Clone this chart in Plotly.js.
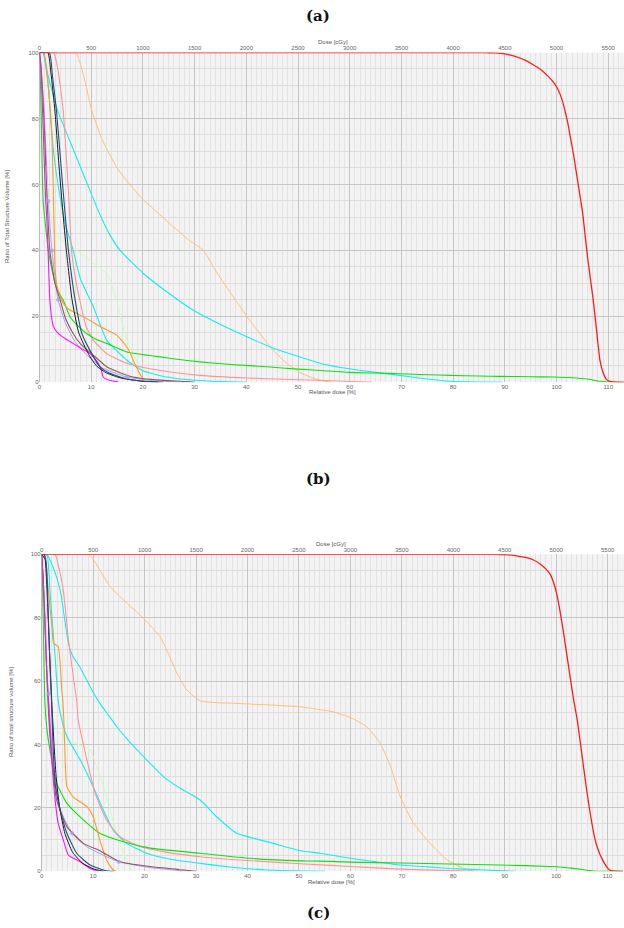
<!DOCTYPE html>
<html>
<head>
<meta charset="utf-8">
<script src="https://cdn.plot.ly/plotly-3.0.1.min.js"></script>
<style>html,body{margin:0;padding:0;background:#fff;}#chart{width:624px;height:928px;}</style>
</head>
<body>
<div id="chart"></div>
<script>
// ---------- Panel (a) data (x = relative dose %, y = volume %) ----------
var a_red_x = [0, 80, 86, 88, 90, 92, 94, 95.5, 97, 98.5, 99.5, 100.3, 101, 101.6, 102.2, 102.6, 103.3, 103.9, 104.5, 105.1, 106, 107.1, 107.8, 108.4, 109, 109.7, 110.5, 111.5, 113];
var a_red_y = [100, 100, 100, 99.9, 99.6, 98.8, 97.6, 96.3, 94.8, 92.6, 90.8, 88.8, 86, 82.6, 78.5, 75, 69, 63, 57, 50.8, 38, 25, 15, 6.7, 3, 0.8, 0.2, 0.05, 0];
var a_lorange_x = [0, 7, 8, 9, 10, 12, 15, 18, 20.1, 23.3, 26, 29, 31.7, 34, 37, 40.1, 43, 45.2, 48, 51, 54.3, 56.5];
var a_lorange_y = [100, 100, 96, 90, 83, 74, 65, 59, 55.3, 50.8, 47, 43, 40, 34, 27, 20, 14, 9.7, 5.5, 2.5, 0.6, 0];
var a_cyanW_x = [0, 0.7, 1.5, 2.5, 3.6, 5.6, 7.6, 9.6, 11.7, 13.5, 15.6, 20.1, 25, 29.7, 35, 40.1, 45, 50.4, 55, 60, 65, 69.7, 75, 79.4, 85, 89.6];
var a_cyanW_y = [100, 100, 94, 88, 82, 74.2, 66.5, 58.8, 50.8, 45, 40, 33, 27, 21.9, 17.5, 13.8, 10.5, 7.7, 5.5, 4.1, 3, 2.1, 1, 0.3, 0.1, 0];
var a_cyanN_x = [0, 0.7, 1.2, 1.8, 2.4, 3.2, 4.6, 5.2, 6.5, 8, 10.4, 13, 16.9, 20, 24.6, 30, 35, 40];
var a_cyanN_y = [100, 100, 96, 88, 75, 64, 51, 47, 40, 31, 23, 12.8, 6.7, 3.5, 1.6, 0.6, 0.2, 0];
var a_salmon_x = [0, 2.7, 3.3, 4, 4.6, 5.2, 5.7, 6.2, 7, 7.8, 9, 10.4, 13, 16, 19.4, 25, 31, 40, 54, 64.3];
var a_salmon_y = [100, 100, 97, 90, 82, 68, 55, 40, 31, 24.9, 17, 12.8, 8.7, 6.3, 4.7, 3.2, 2.1, 1.3, 0.6, 0];
var a_navy_x = [0, 1.9, 2.5, 3.3, 4.2, 4.9, 5.6, 6.9, 8.2, 10.1, 11.7, 13.5, 15.6, 18, 21.4, 24];
var a_navy_y = [100, 100, 93, 82, 65, 52, 40, 24.9, 14.8, 8.7, 4.7, 2.8, 1.6, 0.7, 0.2, 0];
var a_black_x = [0, 1.6, 2.2, 3, 3.8, 4.5, 5.2, 6.3, 7.6, 9.5, 11, 13, 16, 20, 23];
var a_black_y = [100, 100, 94, 82, 65, 52, 40, 25, 15, 8.5, 5, 2.8, 1.2, 0.3, 0];
var a_brown_x = [0, 0.3, 0.6, 1, 1.4, 2, 3, 4, 5, 6.5, 8, 10.1, 13, 15.5, 18.1, 22, 28.5, 30];
var a_brown_y = [100, 96, 88, 75, 58, 40, 30, 24.9, 19.5, 14.8, 11.5, 8.7, 4.7, 3, 1.6, 0.8, 0.2, 0];
var a_lav_x = [0, 0.8, 1.7, 2.4, 3.6, 5, 7, 9, 12, 16.9, 22, 28];
var a_lav_y = [100, 85, 55, 40, 25, 18, 12, 8.5, 4.5, 1.6, 0.5, 0];
var a_lavm_x = [1.7, 2.4, 3.6, 16.9];
var a_lavm_y = [55, 40, 25, 1.6];
var a_magenta_x = [0, 0.3, 0.6, 0.9, 1.2, 1.4, 1.7, 2, 2.4, 2.7, 3.6, 5, 6.5, 8, 9.8, 11.4, 12, 12.3, 13.5, 14.9, 15.3];
var a_magenta_y = [100, 94, 82, 68, 55, 50, 38, 25, 19, 16.9, 14.8, 13.2, 11.8, 10.3, 8.7, 5.7, 3.5, 1.6, 0.6, 0.2, 0];
var a_green_x = [0, 0.2, 0.4, 0.7, 1.2, 1.7, 2.3, 3, 3.8, 4.6, 5.9, 7.5, 9.1, 11, 13, 16.9, 20, 23.3, 27, 31, 37, 43.9, 50, 54.3, 60, 65, 69.7, 75, 79.4, 85, 89.2, 95, 99.5, 103, 106, 108.4, 110, 112, 113];
var a_green_y = [100, 90, 75, 55, 47, 40, 35, 30, 27, 24.9, 19.9, 17, 14.8, 13, 11.8, 9.2, 8.4, 7.7, 6.9, 6.2, 5.4, 4.7, 4, 3.6, 3, 2.8, 2.6, 2.3, 2.1, 1.9, 1.8, 1.7, 1.6, 1.4, 1, 0.3, 0.1, 0, 0];
var a_dorange_x = [0, 0.8, 1.3, 1.8, 2.2, 2.4, 2.6, 2.75, 2.85, 3, 3.4, 4, 4.6, 5.8, 7.2, 9.5, 11.7, 13.5, 14.9, 16, 16.9, 17.6, 18.1, 18.8, 19.4, 20.4];
var a_dorange_y = [100, 100, 96, 88, 80, 75, 63, 52, 45.3, 35, 29, 26, 23.9, 22, 20.9, 19, 16.9, 15.5, 14.3, 12.5, 10.7, 8.7, 6.7, 4.5, 2.6, 0];
var a_pgreen_x = [0, 0.3, 0.7, 1.1, 1.6, 2.2, 2.8, 4, 5.5, 7.2, 8.5, 9.8, 11.5, 13, 14, 14.9, 15.7, 16.5, 17.6, 18.8, 20.4, 22, 23];
var a_pgreen_y = [100, 92, 80, 68, 58, 50, 45.3, 43.5, 41.8, 40, 38.5, 37, 35, 33, 29.5, 24.9, 19.8, 14.8, 10, 6.7, 3, 0.6, 0];

// ---------- Panel (b) data ----------
var b_red_x = [0, 85, 88, 90, 92, 94, 95.6, 97, 98.2, 98.9, 99.5, 100.1, 100.7, 101.5, 102.8, 103.4, 104.1, 104.7, 106, 107.3, 108, 109, 110, 110.6, 111.5, 113];
var b_red_y = [100, 100, 100, 99.9, 99.6, 99, 98.2, 96.8, 95, 93.5, 91, 87.5, 82.5, 74.5, 60.3, 54, 47.7, 40.5, 24.7, 12, 7.5, 3.6, 1, 0.2, 0.05, 0];
var b_lorange_x = [0, 9.1, 10.2, 11.3, 13.3, 15.9, 19.8, 23, 24.3, 26.3, 28.2, 30.8, 34, 37.3, 43.8, 50.3, 54.1, 56.7, 60, 63.2, 65.8, 67.8, 69.7, 72.3, 75.5, 78.8, 82, 84];
var b_lorange_y = [100, 100, 98, 95, 89.8, 85.6, 79.8, 74, 69.8, 62.5, 57.2, 53.8, 53.2, 53, 52.5, 51.9, 51, 50.3, 48.5, 45.6, 40.4, 33, 23.5, 15.1, 8.8, 3.6, 0.9, 0];
var b_cyanW_x = [0, 1, 2.2, 3.6, 4.6, 5.2, 6, 7.4, 8.7, 10, 11.5, 13, 14.6, 17, 19.8, 23.7, 26.9, 30.8, 34, 37.9, 41.2, 45, 50.3, 54.1, 60, 65, 69.7, 75, 79.4, 85, 89, 92];
var b_cyanW_y = [100, 100, 96, 88.7, 78, 72, 68, 64.5, 60.5, 56.5, 52.5, 49.2, 45.6, 41, 36.2, 29.8, 26.2, 22.5, 17.2, 12, 10.4, 8.8, 6.5, 5.7, 4.1, 3, 2, 1.4, 0.9, 0.5, 0.2, 0];
var b_cyanN_x = [0, 1, 1.6, 2.1, 2.6, 3.2, 3.6, 4.9, 7.5, 10, 12, 13.9, 16.5, 20.4, 25, 30.8, 37, 43.8, 55];
var b_cyanN_y = [100, 100, 88.7, 78, 67.7, 54, 50, 42.5, 35.1, 26.7, 19.3, 13, 8.8, 5.7, 3.8, 2.5, 1.3, 0.4, 0];
var b_salmon_x = [0, 2.6, 3.3, 4.2, 5.2, 6.5, 6.8, 7.1, 8.8, 10.4, 12.6, 15.2, 19.1, 25, 30.8, 40, 50.3, 60, 69.7, 79.4, 85];
var b_salmon_y = [100, 100, 96, 88.7, 73, 57.2, 54, 47.7, 35.1, 24.6, 16.2, 10.9, 7.8, 5.8, 4.6, 3.4, 2.4, 1.5, 0.7, 0.2, 0];
var b_dorange_x = [0, 0.6, 1.1, 1.6, 2, 2.3, 3.2, 3.9, 4.1, 4.3, 4.5, 4.9, 6.1, 8.8, 10, 11.3, 12.6, 13.9, 14.5];
var b_dorange_y = [100, 100, 92, 83.5, 77, 72, 70.9, 57.2, 54, 47.7, 38.3, 26.7, 23.5, 20.4, 17.2, 9.9, 3.6, 0.4, 0];
var b_green_x = [0, 0.2, 0.4, 0.6, 1, 1.6, 2.9, 4.9, 8.1, 11.3, 15.9, 21.1, 30.8, 40.5, 50.3, 54.1, 60, 70, 79.4, 89, 98.8, 103, 106.5, 108, 113];
var b_green_y = [100, 88, 70, 54, 45, 38.3, 27.8, 21.5, 16.2, 12, 9.3, 7.3, 5.7, 4.1, 3.3, 3.2, 2.9, 2.6, 2.3, 2, 1.5, 1, 0.2, 0, 0];
var b_pgreen_x = [0, 0.3, 0.7, 1.2, 1.8, 2.5, 4.9, 7.5, 9.4, 10.7, 12, 13.3, 14.6, 15.9, 17.5, 18];
var b_pgreen_y = [100, 90, 75, 62, 52, 45.6, 41.4, 39.8, 38.3, 33, 26.7, 19.3, 12, 5.7, 0.4, 0];
var b_navy_x = [0, 0.8, 1.2, 1.6, 1.9, 2.2, 2.6, 3.6, 4.9, 6.8, 9.4, 12.6, 14];
var b_navy_y = [100, 98, 85, 65, 54, 40, 27.8, 19.3, 12, 5.7, 2, 0.2, 0];
var b_black_x = [0, 0.5, 1, 1.5, 2, 2.4, 2.8, 3.5, 4.5, 6, 8, 10, 12];
var b_black_y = [100, 100, 90, 70, 52, 40, 30, 20, 12, 6, 2.5, 0.8, 0];
var b_brown_x = [0, 0.3, 0.7, 1.1, 1.5, 2, 2.9, 4.9, 8.1, 11.3, 15.2, 21.1, 27.6, 30];
var b_brown_y = [100, 92, 75, 58, 45, 35, 22.5, 14.1, 8.8, 6.5, 3, 1.5, 0.4, 0];
var b_lav_x = [0, 0.5, 1.3, 2.2, 3.5, 5.9, 9, 15, 21, 27, 29];
var b_lav_y = [100, 85, 56, 35, 20, 12, 7.5, 3, 1.2, 0.2, 0];
var b_lavm_x = [1.3, 5.9, 15, 27];
var b_lavm_y = [56, 12, 3, 0.2];
var b_magenta_x = [0, 0.3, 0.6, 0.9, 1.3, 1.8, 2.3, 3.2, 4.2, 5.2, 7.5, 9.4, 10.7, 11];
var b_magenta_y = [100, 92, 80, 66, 54, 40, 27.8, 15.2, 9.9, 5.1, 3, 0.9, 0.2, 0];

// tick labels
var relTicks = [0, 10, 20, 30, 40, 50, 60, 70, 80, 90, 100, 110];
var doseTicks = [0, 500, 1000, 1500, 2000, 2500, 3000, 3500, 4000, 4500, 5000, 5500];
var volTicks = [0, 20, 40, 60, 80, 100];

var COL = {
  red: '#ff1a1a', lorange: '#ffbf78', cyan: '#14ecf0', salmon: '#ff9494', navy: '#1f4f8f',
  black: '#1a1a1a', brown: '#8e5a5a', lav: '#a99cf0', magenta: '#ff10ff', green: '#10e010',
  dorange: '#ff9a2a', pgreen: '#c6ffb8'
};

function ln(x, y, c, w, xa, ya) {
  return {type: 'scatter', mode: 'lines', x: x, y: y, xaxis: xa, yaxis: ya,
    line: {color: c, width: w || 1.1, shape: 'spline', smoothing: 0.5}, hoverinfo: 'skip'};
}
function mk(x, y, c, xa, ya) {
  return {type: 'scatter', mode: 'markers', x: x, y: y, xaxis: xa, yaxis: ya,
    marker: {color: c, size: 4, opacity: 0.8}, hoverinfo: 'skip'};
}

var traces = [
  ln(a_lav_x, a_lav_y, COL.lav, 1, 'x', 'y'),
  ln(a_pgreen_x, a_pgreen_y, COL.pgreen, 1, 'x', 'y'),
  ln(a_lorange_x, a_lorange_y, COL.lorange, 1, 'x', 'y'),
  ln(a_cyanW_x, a_cyanW_y, COL.cyan, 1.1, 'x', 'y'),
  ln(a_cyanN_x, a_cyanN_y, COL.cyan, 1.1, 'x', 'y'),
  ln(a_salmon_x, a_salmon_y, COL.salmon, 1.1, 'x', 'y'),
  ln(a_green_x, a_green_y, COL.green, 1.1, 'x', 'y'),
  ln(a_dorange_x, a_dorange_y, COL.dorange, 1.1, 'x', 'y'),
  ln(a_brown_x, a_brown_y, COL.brown, 1.1, 'x', 'y'),
  ln(a_magenta_x, a_magenta_y, COL.magenta, 1.1, 'x', 'y'),
  ln(a_black_x, a_black_y, COL.black, 1, 'x', 'y'),
  ln(a_navy_x, a_navy_y, COL.navy, 1.1, 'x', 'y'),
  ln(a_red_x, a_red_y, COL.red, 1.3, 'x', 'y'),
  mk(a_lavm_x, a_lavm_y, COL.lav, 'x', 'y'),
  {type: 'scatter', mode: 'lines', x: [], y: [], xaxis: 'x2', yaxis: 'y', hoverinfo: 'skip'},

  ln(b_lav_x, b_lav_y, COL.lav, 1, 'x3', 'y2'),
  ln(b_pgreen_x, b_pgreen_y, COL.pgreen, 1, 'x3', 'y2'),
  ln(b_lorange_x, b_lorange_y, COL.lorange, 1, 'x3', 'y2'),
  ln(b_cyanW_x, b_cyanW_y, COL.cyan, 1.1, 'x3', 'y2'),
  ln(b_cyanN_x, b_cyanN_y, COL.cyan, 1.1, 'x3', 'y2'),
  ln(b_salmon_x, b_salmon_y, COL.salmon, 1.1, 'x3', 'y2'),
  ln(b_green_x, b_green_y, COL.green, 1.1, 'x3', 'y2'),
  ln(b_dorange_x, b_dorange_y, COL.dorange, 1.1, 'x3', 'y2'),
  ln(b_brown_x, b_brown_y, COL.brown, 1.1, 'x3', 'y2'),
  ln(b_magenta_x, b_magenta_y, COL.magenta, 1.1, 'x3', 'y2'),
  ln(b_black_x, b_black_y, COL.black, 1, 'x3', 'y2'),
  ln(b_navy_x, b_navy_y, COL.navy, 1.1, 'x3', 'y2'),
  ln(b_red_x, b_red_y, COL.red, 1.3, 'x3', 'y2'),
  mk(b_lavm_x, b_lavm_y, COL.lav, 'x3', 'y2'),
  {type: 'scatter', mode: 'lines', x: [], y: [], xaxis: 'x4', yaxis: 'y2', hoverinfo: 'skip'}
];

var W = 624, H = 928;
var tickFont = {family: 'Liberation Sans, Arial, sans-serif', size: 6, color: '#666'};
function px(v) { return v / W; }
function py(v) { return 1 - v / H; }

function relAxis(dom, rng, anchor) {
  return {domain: dom, range: rng, anchor: anchor, tickmode: 'array', tickvals: relTicks,
    ticktext: relTicks.map(String), tickfont: tickFont, ticks: '', showline: false,
    showgrid: true, gridcolor: '#c6c6c6', gridwidth: 1, zeroline: true, zerolinecolor: '#bdbdbd', zerolinewidth: 1,
    minor: {dtick: 1, showgrid: true, gridcolor: '#e3e3e3', gridwidth: 1}, fixedrange: true};
}
function doseAxis(over, anchor, rng) {
  return {overlaying: over, anchor: anchor, side: 'top', range: rng, tickmode: 'array', tickvals: doseTicks,
    ticktext: doseTicks.map(String), tickfont: tickFont, ticks: '', showline: false,
    showgrid: false, zeroline: false, fixedrange: true};
}
function volAxis(dom, anchor) {
  return {domain: dom, range: [0, 100], anchor: anchor, tickmode: 'array', tickvals: volTicks,
    ticktext: volTicks.map(String), tickfont: tickFont, ticks: '', showline: false,
    showgrid: true, gridcolor: '#c6c6c6', gridwidth: 1, zeroline: false,
    minor: {dtick: 5, showgrid: true, gridcolor: '#dedede', gridwidth: 1}, fixedrange: true};
}

var aL = 39.5, bL = 41.7, aScale = 5.17, bScale = 5.145;
var aMax = (W - aL) / aScale, bMax = (W - bL) / bScale;

var titleFont = {family: 'Liberation Sans, Arial, sans-serif', size: 6, color: '#555'};
var capFont = {family: 'DejaVu Serif, serif', size: 15, color: '#111'};
function ann(text, x, y, font, angle) {
  return {text: text, x: px(x), y: py(y), xref: 'paper', yref: 'paper', showarrow: false,
    xanchor: 'center', yanchor: 'middle', font: font, textangle: angle || 0};
}

var layout = {
  width: W, height: H, autosize: false,
  margin: {l: 0, r: 0, t: 0, b: 0, pad: 0},
  paper_bgcolor: '#ffffff', plot_bgcolor: '#f3f3f3',
  showlegend: false,
  xaxis: relAxis([px(aL), 1], [0, aMax], 'y'),
  xaxis2: doseAxis('x', 'y', [0, aMax * 50]),
  yaxis: volAxis([py(382.3), py(52.5)], 'x'),
  xaxis3: relAxis([px(bL), 1], [0, bMax], 'y2'),
  xaxis4: doseAxis('x3', 'y2', [0, bMax * 50]),
  yaxis2: volAxis([py(871.3), py(554.3)], 'x3'),
  annotations: [
    ann('<b>(a)</b>', 318, 16, capFont),
    ann('<b>(b)</b>', 318, 479, capFont),
    ann('<b>(c)</b>', 318, 913, capFont),
    ann('Dose [cGy]', 333, 42, titleFont),
    ann('Relative dose [%]', 332, 392, titleFont),
    ann('Ratio of Total Structure Volume [%]', 7, 217, titleFont, -90),
    ann('Dose [cGy]', 331, 544, titleFont),
    ann('Relative dose [%]', 331, 882, titleFont),
    ann('Ratio of total structure volume [%]', 11, 712, titleFont, -90)
  ]
};

Plotly.newPlot('chart', traces, layout, {staticPlot: true, displayModeBar: false});
</script>
</body>
</html>
